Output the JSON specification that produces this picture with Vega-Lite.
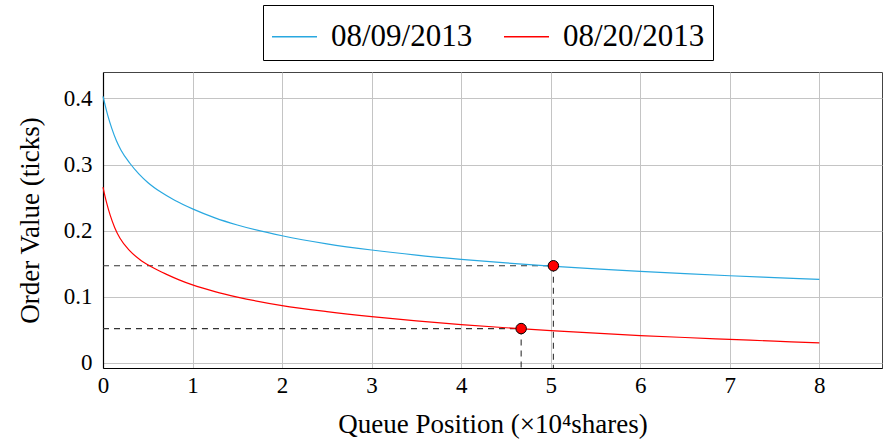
{
  "$schema": "https://vega.github.io/schema/vega-lite/v6.json",
  "width": 779,
  "height": 296,
  "autosize": {"type": "none"},
  "padding": {"left": 103, "top": 72, "right": 1, "bottom": 79},
  "background": "white",
  "config": {
    "font": "Liberation Serif",
    "view": {"stroke": "#444", "strokeWidth": 1},
    "axis": {
      "labelFont": "Liberation Serif",
      "titleFont": "Liberation Serif",
      "labelColor": "black",
      "titleColor": "black",
      "titleFontWeight": "normal",
      "gridColor": "#c4c4c4",
      "gridWidth": 1,
      "domainColor": "black",
      "domainWidth": 1.2,
      "ticks": false,
      "labelFlush": false
    }
  },
  "datasets": {
    "curves": [
      {"x": 0, "y": 0.403, "series": "08/09/2013"},
      {"x": 0.02, "y": 0.392, "series": "08/09/2013"},
      {"x": 0.05, "y": 0.376, "series": "08/09/2013"},
      {"x": 0.1, "y": 0.354, "series": "08/09/2013"},
      {"x": 0.15, "y": 0.336, "series": "08/09/2013"},
      {"x": 0.2, "y": 0.322, "series": "08/09/2013"},
      {"x": 0.3, "y": 0.302, "series": "08/09/2013"},
      {"x": 0.4, "y": 0.286, "series": "08/09/2013"},
      {"x": 0.5, "y": 0.273, "series": "08/09/2013"},
      {"x": 0.65, "y": 0.258, "series": "08/09/2013"},
      {"x": 0.8, "y": 0.246, "series": "08/09/2013"},
      {"x": 1, "y": 0.233, "series": "08/09/2013"},
      {"x": 1.25, "y": 0.2195, "series": "08/09/2013"},
      {"x": 1.5, "y": 0.2087, "series": "08/09/2013"},
      {"x": 2, "y": 0.1924, "series": "08/09/2013"},
      {"x": 2.5, "y": 0.1802, "series": "08/09/2013"},
      {"x": 3, "y": 0.1708, "series": "08/09/2013"},
      {"x": 3.5, "y": 0.1631, "series": "08/09/2013"},
      {"x": 4, "y": 0.1568, "series": "08/09/2013"},
      {"x": 4.5, "y": 0.1513, "series": "08/09/2013"},
      {"x": 5, "y": 0.1465, "series": "08/09/2013"},
      {"x": 5.5, "y": 0.1422, "series": "08/09/2013"},
      {"x": 6, "y": 0.1384, "series": "08/09/2013"},
      {"x": 6.5, "y": 0.1350, "series": "08/09/2013"},
      {"x": 7, "y": 0.1319, "series": "08/09/2013"},
      {"x": 7.5, "y": 0.1291, "series": "08/09/2013"},
      {"x": 8, "y": 0.1265, "series": "08/09/2013"},
      {"x": 0, "y": 0.266, "series": "08/20/2013"},
      {"x": 0.02, "y": 0.2535, "series": "08/20/2013"},
      {"x": 0.04, "y": 0.2425, "series": "08/20/2013"},
      {"x": 0.08, "y": 0.2235, "series": "08/20/2013"},
      {"x": 0.13, "y": 0.205, "series": "08/20/2013"},
      {"x": 0.19, "y": 0.1885, "series": "08/20/2013"},
      {"x": 0.3, "y": 0.1695, "series": "08/20/2013"},
      {"x": 0.41, "y": 0.1565, "series": "08/20/2013"},
      {"x": 0.54, "y": 0.1455, "series": "08/20/2013"},
      {"x": 0.71, "y": 0.134, "series": "08/20/2013"},
      {"x": 0.85, "y": 0.1257, "series": "08/20/2013"},
      {"x": 1, "y": 0.118, "series": "08/20/2013"},
      {"x": 1.25, "y": 0.1079, "series": "08/20/2013"},
      {"x": 1.5, "y": 0.0997, "series": "08/20/2013"},
      {"x": 2, "y": 0.0868, "series": "08/20/2013"},
      {"x": 2.5, "y": 0.0776, "series": "08/20/2013"},
      {"x": 3, "y": 0.0700, "series": "08/20/2013"},
      {"x": 3.5, "y": 0.0636, "series": "08/20/2013"},
      {"x": 4, "y": 0.0580, "series": "08/20/2013"},
      {"x": 4.5, "y": 0.0533, "series": "08/20/2013"},
      {"x": 5, "y": 0.0490, "series": "08/20/2013"},
      {"x": 5.5, "y": 0.0451, "series": "08/20/2013"},
      {"x": 6, "y": 0.0415, "series": "08/20/2013"},
      {"x": 6.5, "y": 0.0385, "series": "08/20/2013"},
      {"x": 7, "y": 0.0357, "series": "08/20/2013"},
      {"x": 7.5, "y": 0.0330, "series": "08/20/2013"},
      {"x": 8, "y": 0.0304, "series": "08/20/2013"}
    ],
    "guides": [
      {"xa": 0, "xb": 5.03, "ya": 0.147, "yb": 0.147},
      {"xa": 5.03, "xb": 5.03, "ya": 0.147, "yb": -0.0076},
      {"xa": 0, "xb": 4.67, "ya": 0.052, "yb": 0.052},
      {"xa": 4.67, "xb": 4.67, "ya": 0.052, "yb": -0.0076}
    ],
    "points": [
      {"x": 5.03, "y": 0.147},
      {"x": 4.67, "y": 0.052}
    ]
  },
  "layer": [
    {
      "data": {"name": "guides"},
      "mark": {"type": "rule", "color": "#333333", "strokeWidth": 1.1, "strokeDash": [6, 5]},
      "encoding": {
        "x": {"field": "xa", "type": "quantitative",
              "scale": {"domain": [0, 8.7], "nice": false, "zero": false},
              "axis": {"values": [0, 1, 2, 3, 4, 5, 6, 7, 8], "format": "d", "title": "Queue Position (×10⁴shares)",
                       "labelFontSize": 23, "titleFontSize": 27, "labelPadding": 6, "titlePadding": 14, "grid": true}},
        "x2": {"field": "xb"},
        "y": {"field": "ya", "type": "quantitative",
              "scale": {"domain": [-0.0076, 0.44], "nice": false, "zero": false},
              "axis": {"values": [0, 0.1, 0.2, 0.3, 0.4], "format": ".1~f", "title": "Order Value (ticks)",
                       "labelFontSize": 23, "titleFontSize": 27, "labelPadding": 11, "titlePadding": 19, "grid": true}},
        "y2": {"field": "yb"}
      }
    },
    {
      "data": {"name": "curves"},
      "mark": {"type": "line", "strokeWidth": 1.2, "interpolate": "monotone"},
      "encoding": {
        "x": {"field": "x", "type": "quantitative"},
        "y": {"field": "y", "type": "quantitative"},
        "color": {
          "field": "series", "type": "nominal",
          "scale": {"domain": ["08/09/2013", "08/20/2013"], "range": ["#29a8e0", "#ff0000"]},
          "legend": {
            "title": null,
            "orient": "none",
            "direction": "horizontal",
            "legendX": 160,
            "legendY": -67,
            "symbolType": "stroke",
            "symbolSize": 2025,
            "symbolStrokeWidth": 1.5,
            "labelFontSize": 31,
            "labelFont": "Liberation Serif",
            "labelColor": "black",
            "labelOffset": 13,
            "columnPadding": 28,
            "padding": 8,
            "strokeColor": "black",
            "labelLimit": 300
          }
        }
      }
    },
    {
      "data": {"name": "points"},
      "mark": {"type": "point", "filled": true, "fill": "#ff0000", "stroke": "black", "strokeWidth": 1, "size": 110, "opacity": 1},
      "encoding": {
        "x": {"field": "x", "type": "quantitative"},
        "y": {"field": "y", "type": "quantitative"}
      }
    }
  ]
}
